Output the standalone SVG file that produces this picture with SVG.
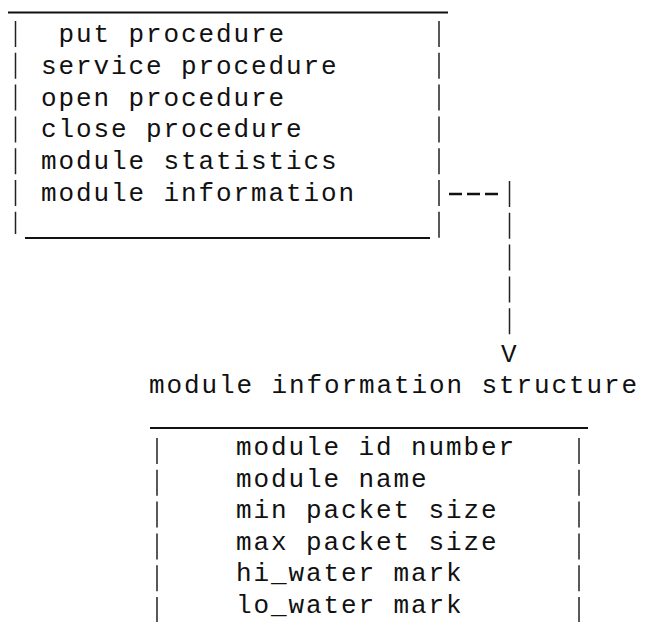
<svg xmlns="http://www.w3.org/2000/svg" width="645" height="622" viewBox="0 0 645 622">
  <style>
    .txt { font-family: "Liberation Mono", "Courier New", monospace; font-size: 26px; letter-spacing: 1.9px; fill: #111; }
    .rule { stroke: #111; stroke-width: 2; fill: none; }
    .bar { stroke: #222; stroke-width: 1.5; fill: none; stroke-dasharray: 26 5.8; }
    .dash { stroke: #111; stroke-width: 2.5; fill: none; stroke-dasharray: 13 5; }
  </style>
  <rect width="645" height="622" fill="#fff"/>

  <!-- streams module table -->
  <g id="module-table">
    <line class="rule" x1="8" y1="12.5" x2="448" y2="12.5"/>
    <line class="rule" x1="25" y1="238" x2="430" y2="238"/>
    <line class="bar" x1="15.5" y1="21" x2="15.5" y2="234"/>
    <line class="bar" x1="439" y1="21" x2="439" y2="240"/>
    <text class="txt" x="58.5" y="42">put procedure</text>
    <text class="txt" x="41" y="73.8">service procedure</text>
    <text class="txt" x="41" y="105.6">open procedure</text>
    <text class="txt" x="41" y="137.4">close procedure</text>
    <text class="txt" x="41" y="169.2">module statistics</text>
    <text class="txt" x="41" y="201">module information</text>
  </g>

  <!-- pointer from module information to its structure -->
  <g id="connectors">
    <line class="dash" x1="449" y1="194" x2="499" y2="194"/>
    <line class="bar" x1="509.5" y1="181" x2="509.5" y2="337"/>
    <text class="txt" x="509.7" y="362" text-anchor="middle" letter-spacing="0">V</text>
  </g>

  <!-- module information structure -->
  <g id="module-info-structure">
    <text class="txt" x="149" y="393">module information structure</text>
    <line class="rule" x1="150" y1="428" x2="588" y2="428"/>
    <line class="bar" x1="157" y1="438" x2="157" y2="622"/>
    <line class="bar" x1="579" y1="438" x2="579" y2="622"/>
    <text class="txt" x="236" y="455">module id number</text>
    <text class="txt" x="236" y="486.6">module name</text>
    <text class="txt" x="236" y="518.2">min packet size</text>
    <text class="txt" x="236" y="549.8">max packet size</text>
    <text class="txt" x="236" y="581.4">hi_water mark</text>
    <text class="txt" x="236" y="613">lo_water mark</text>
  </g>
</svg>
